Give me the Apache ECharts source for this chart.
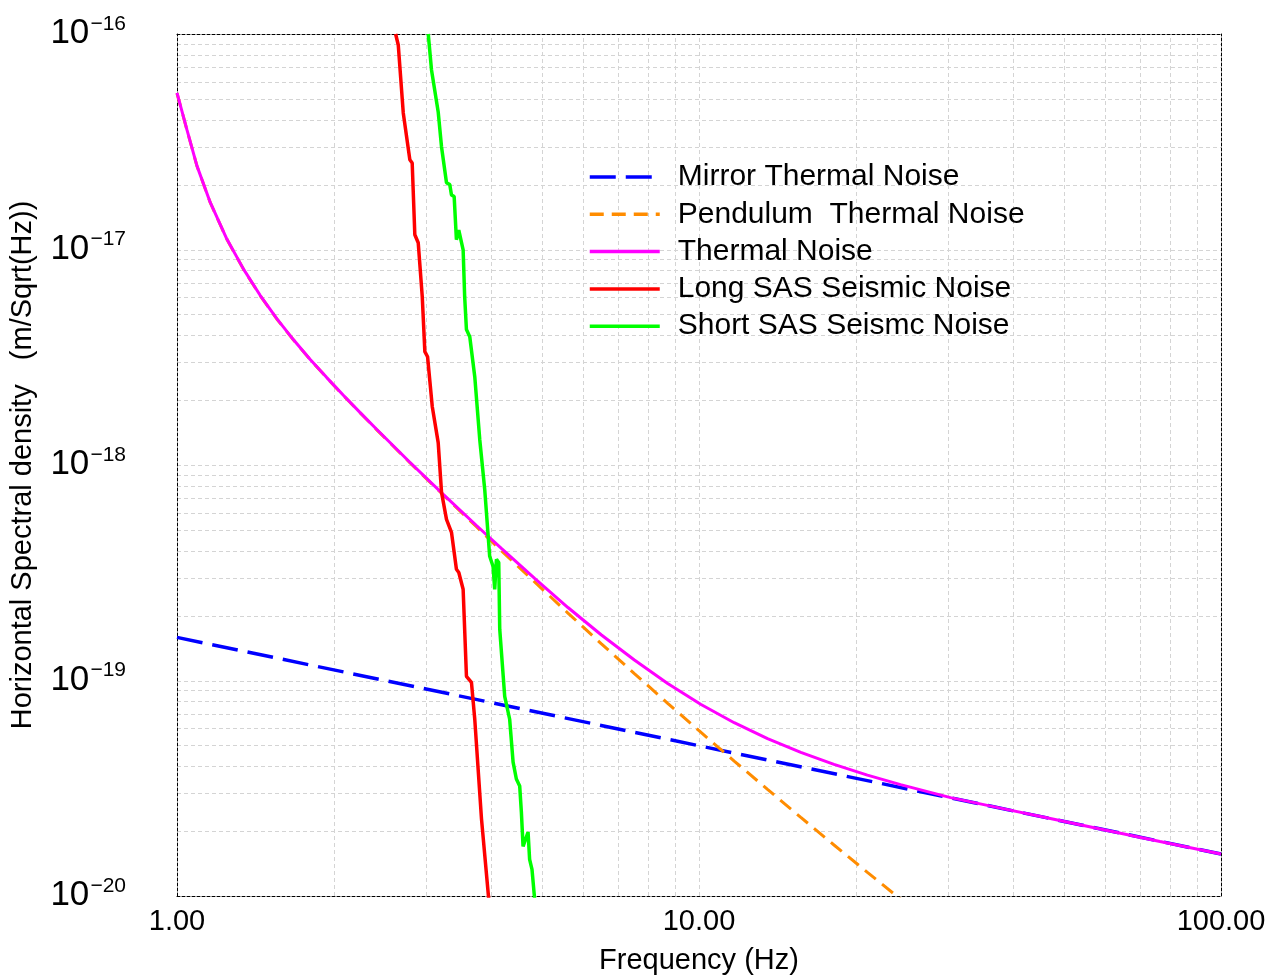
<!DOCTYPE html>
<html>
<head>
<meta charset="utf-8">
<script src="https://cdn.jsdelivr.net/npm/echarts@6/dist/echarts.min.js"></script>
<style>html,body{margin:0;padding:0;background:#fff;}#c{width:1280px;height:980px;}</style>
</head>
<body>
<div id="c"></div>
<script>
// ---- data ----
const seriesNames = ['Mirror Thermal Noise', 'Pendulum  Thermal Noise', 'Thermal Noise', 'Long SAS Seismic Noise', 'Short SAS Seismc Noise'];

const mirrorFreq = [1, 3, 10, 30, 100];
const mirrorVal  = [1.585e-19, 9.13e-20, 4.98e-20, 2.87e-20, 1.567e-20];

const pendFreq = [1.000,1.045,1.092,1.158,1.246,1.341,1.443,1.553,1.672,1.798,1.936,2.083,2.241,2.412,2.793,3.236,3.747,4.182,4.843,5.610,6.494,7.520,8.710,10.09,11.68,13.53,15.67,18.14,21.02,24.33,27.77];
const pendVal  = [5.31e-17,3.58e-17,2.44e-17,1.65e-17,1.115e-17,8.09e-18,6.11e-18,4.76e-18,3.80e-18,3.09e-18,2.54e-18,2.10e-18,1.75e-18,1.46e-18,1.025e-18,7.27e-19,5.17e-19,4.00e-19,2.866e-19,2.056e-19,1.483e-19,1.077e-19,7.84e-20,5.74e-20,4.23e-20,3.123e-20,2.316e-20,1.725e-20,1.288e-20,9.66e-21,7.47e-21];

const thermFreq = [1.000,1.045,1.092,1.158,1.246,1.341,1.443,1.553,1.672,1.798,1.936,2.083,2.241,2.412,2.793,3.236,3.747,4.182,4.843,5.610,6.494,7.520,8.710,10.09,11.68,13.53,15.67,18.14,21.02,24.33,30.33,37.8,47.1,58.7,76.4,100];
const thermVal  = [5.33e-17,3.59e-17,2.444e-17,1.654e-17,1.118e-17,8.11e-18,6.13e-18,4.78e-18,3.81e-18,3.096e-18,2.544e-18,2.106e-18,1.755e-18,1.465e-18,1.030e-18,7.31e-19,5.24e-19,4.10e-19,2.975e-19,2.181e-19,1.630e-19,1.244e-19,9.69e-20,7.74e-20,6.37e-20,5.37e-20,4.64e-20,4.08e-20,3.64e-20,3.287e-20,2.86e-20,2.557e-20,2.287e-20,2.044e-20,1.789e-20,1.566e-20];

const longFreq = [2.623,2.654,2.713,2.793,2.822,2.855,2.898,2.950,2.984,3.020,3.083,3.165,3.212,3.283,3.356,3.430,3.466,3.533,3.585,3.665,3.719,3.831,3.955];
const longVal  = [1.0e-16,8.89e-17,4.30e-17,2.61e-17,2.52e-17,1.17e-17,1.075e-17,6.04e-18,3.36e-18,3.18e-18,1.87e-18,1.27e-18,7.46e-19,5.59e-19,4.87e-19,3.28e-19,3.17e-19,2.65e-19,1.046e-19,9.81e-20,6.61e-20,2.28e-20,9.68e-21];

const shortFreq = [3.029,3.073,3.165,3.212,3.283,3.331,3.356,3.396,3.430,3.466,3.533,3.557,3.585,3.638,3.719,3.802,3.886,3.972,4.032,4.061,4.092,4.134,4.152,4.244,4.338,4.404,4.468,4.534,4.568,4.602,4.705,4.737,4.787,4.843];
const shortVal  = [1.0e-16,6.81e-17,4.35e-17,2.99e-17,2.04e-17,2.00e-17,1.79e-17,1.76e-17,1.11e-17,1.23e-17,9.97e-18,6.04e-18,4.25e-18,3.94e-18,2.57e-18,1.31e-18,7.70e-19,3.77e-19,3.38e-19,2.65e-19,3.65e-19,3.53e-19,1.73e-19,8.45e-20,6.61e-20,4.18e-20,3.49e-20,3.24e-20,2.45e-20,1.70e-20,1.98e-20,1.48e-20,1.33e-20,9.68e-21];

const xTicks = [1, 10, 100];
const xTickLabels = ['1.00', '10.00', '100.00'];
const yTickExps = [-20, -19, -18, -17, -16];
const xGridVals = [2,3,4,5,6,7,8,9,10,20,30,40,50,60,70,80,90];
const yGridMantissas = [1,2,3,4,5,6,7,8,9];
const yGridExps = [-20,-19,-18,-17];

const yGridVals = [];
yGridExps.forEach(e => yGridMantissas.forEach(m => { if (!(m === 1 && e === -20)) yGridVals.push(m * Math.pow(10, e)); }));

const colors = ['#0000ff', '#ff8c00', '#ff00ff', '#ff0000', '#00ff00'];
const zip = (a, b) => a.map((v, i) => [v, b[i]]);

const FONT = 'Liberation Sans, Arial, Helvetica, sans-serif';
const X_MIN = 1, X_MAX = 100, Y_MIN = 1e-20, Y_MAX = 1e-16;

const chart = echarts.init(document.getElementById('c'), null, { renderer: 'canvas' });

const gridLineStyle = { stroke: '#d4d4d4', lineWidth: 1, lineDash: [4, 3] };

function vGrid(params, api) {
  const a = api.coord([api.value(0), Y_MIN]);
  const b = api.coord([api.value(0), Y_MAX]);
  const x = Math.round(a[0]) + 0.5;
  return { type: 'line', shape: { x1: x, y1: a[1], x2: x, y2: b[1] }, style: gridLineStyle, silent: true };
}
function hGrid(params, api) {
  const a = api.coord([X_MIN, api.value(1)]);
  const b = api.coord([X_MAX, api.value(1)]);
  const y = Math.round(a[1]) + 0.5;
  return { type: 'line', shape: { x1: a[0], y1: y, x2: b[0], y2: y }, style: gridLineStyle, silent: true };
}

const axisLineStyle = { color: '#000', width: 1, type: [3, 2] };

const option = {
  backgroundColor: '#ffffff',
  animation: false,
  textStyle: { fontFamily: FONT },
  grid: { left: 175, right: 59, top: 34, bottom: 83, containLabel: false },
  legend: {
    data: seriesNames,
    orient: 'vertical',
    left: 583,
    top: 157,
    itemWidth: 70,
    itemHeight: 4,
    itemGap: 7.3,
    itemStyle: { opacity: 0 },
    lineStyle: { width: 3.5 },
    textStyle: { fontSize: 30, fontFamily: FONT, color: '#000', lineHeight: 30, padding: [0, 0, 0, 13] },
    selectedMode: false
  },
  xAxis: [{
    type: 'log', logBase: 10, min: X_MIN, max: X_MAX,
    name: 'Frequency (Hz)', nameLocation: 'middle', nameGap: 50,
    nameTextStyle: { fontSize: 29, fontFamily: FONT, color: '#000' },
    axisLine: { show: true, onZero: false, lineStyle: axisLineStyle },
    axisTick: { show: false },
    splitLine: { show: false },
    axisLabel: {
      fontSize: 29, fontFamily: FONT, color: '#000', margin: 11,
      formatter: v => { const i = xTicks.findIndex(t => Math.abs(t - v) / t < 1e-6); return i >= 0 ? xTickLabels[i] : ''; }
    }
  }, {
    type: 'log', logBase: 10, min: X_MIN, max: X_MAX, position: 'top',
    axisLine: { show: true, onZero: false, lineStyle: axisLineStyle },
    axisTick: { show: false }, axisLabel: { show: false }, splitLine: { show: false }
  }],
  yAxis: [{
    type: 'log', logBase: 10, min: Y_MIN, max: Y_MAX,
    name: 'Horizontal Spectral density   (m/Sqrt(Hz))', nameLocation: 'middle', nameGap: 140,
    nameTextStyle: { fontSize: 29, fontFamily: FONT, color: '#000' },
    axisLine: { show: true, onZero: false, lineStyle: axisLineStyle },
    axisTick: { show: false },
    splitLine: { show: false },
    axisLabel: {
      margin: 51, color: '#000',
      formatter: v => {
        const e = Math.round(Math.log10(v));
        if (yTickExps.indexOf(e) < 0) return '';
        return '{s|\u2212' + Math.abs(e) + '}\n{b|10}';
      },
      rich: {
        s: { fontSize: 21, fontFamily: FONT, color: '#000', lineHeight: 12, align: 'right', padding: [0, 0, 0, 40] },
        b: { fontSize: 35, fontFamily: FONT, color: '#000', lineHeight: 20, align: 'left', padding: [0, 0, 13, 0] }
      }
    }
  }, {
    type: 'log', logBase: 10, min: Y_MIN, max: Y_MAX, position: 'right',
    axisLine: { show: true, onZero: false, lineStyle: axisLineStyle },
    axisTick: { show: false }, axisLabel: { show: false }, splitLine: { show: false }
  }],
  series: [
    { name: 'vgrid', type: 'custom', renderItem: vGrid, data: xGridVals.map(v => [v, 1e-18]), z: 0, silent: true, clip: true },
    { name: 'hgrid', type: 'custom', renderItem: hGrid, data: yGridVals.map(v => [10, v]), z: 0, silent: true, clip: true },
    { name: seriesNames[0], type: 'line', data: zip(mirrorFreq, mirrorVal), showSymbol: false, symbol: 'none', z: 2,
      lineStyle: { color: colors[0], width: 3.5, type: [26, 10] }, itemStyle: { color: colors[0] } },
    { name: seriesNames[1], type: 'line', data: zip(pendFreq, pendVal), showSymbol: false, symbol: 'none', z: 3,
      lineStyle: { color: colors[1], width: 3, type: [14, 8] }, itemStyle: { color: colors[1] } },
    { name: seriesNames[2], type: 'line', data: zip(thermFreq, thermVal), showSymbol: false, symbol: 'none', z: 4,
      lineStyle: { color: colors[2], width: 3, type: 'solid' }, itemStyle: { color: colors[2] } },
    { name: seriesNames[3], type: 'line', data: zip(longFreq, longVal), showSymbol: false, symbol: 'none', z: 5,
      lineStyle: { color: colors[3], width: 3.5, type: 'solid' }, itemStyle: { color: colors[3] } },
    { name: seriesNames[4], type: 'line', data: zip(shortFreq, shortVal), showSymbol: false, symbol: 'none', z: 6,
      lineStyle: { color: colors[4], width: 3.5, type: 'solid' }, itemStyle: { color: colors[4] } }
  ]
};
chart.setOption(option);
</script>
</body>
</html>
